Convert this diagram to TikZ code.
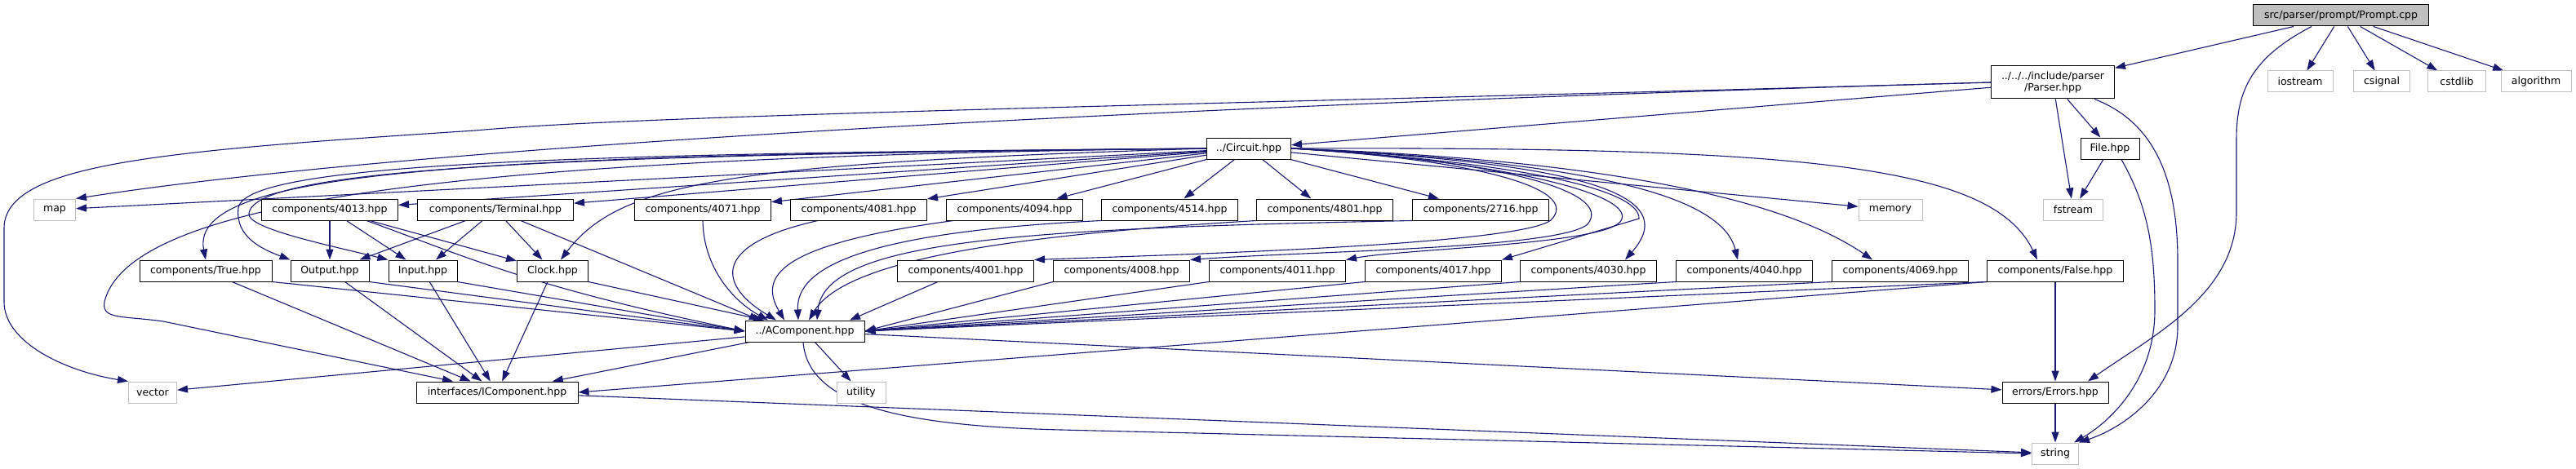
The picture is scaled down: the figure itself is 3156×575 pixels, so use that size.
\documentclass[tikz,border=0pt]{standalone}
\usepackage{fontspec}
\setmainfont{DejaVu Sans}
\usepackage{xcolor}
\usepackage{tikz}
\usetikzlibrary{arrows.meta}
\definecolor{edgeblue}{RGB}{25,25,112}
\definecolor{sysgray}{RGB}{191,191,191}
\pgfdeclarelayer{edges}
\pgfsetlayers{edges,main}

\begin{document}
\begin{tikzpicture}[x=1pt,y=-1pt,
  hdr/.style={draw=black,line width=1pt,fill=white,minimum height=26pt,inner xsep=4pt,inner ysep=2pt,font=\fontsize{12.5}{14.5}\selectfont},
  sys/.style={hdr,draw=sysgray},
  dep/.style={draw=edgeblue,line width=1.1pt,-{Triangle[length=13pt,width=9pt]}}]
\useasboundingbox (0,0) rectangle (3156,575);
% Top: the source file and what it pulls in
\node[hdr,fill=sysgray,minimum width=215pt] (prompt) at (2868,19) {src/parser/prompt/Prompt.cpp};
\node[hdr,minimum width=151pt,minimum height=40pt,align=center] (parser) at (2515,101) {../../../include/parser\\/Parser.hpp};
\foreach \n/\x/\w in {iostream/2818/80, csignal/2918/69, cstdlib/3010/71, algorithm/3107/86}
    \node[sys,minimum width=\w pt] (\n) at (\x,100) {\n};
\node[hdr,minimum width=103pt] (circuit) at (1530,182) {../Circuit.hpp};
\node[hdr,minimum width=72pt] (fileh) at (2585,182) {File.hpp};
% Row 3
\node[sys,minimum width=51pt] (map) at (67,257) {map};
\node[hdr,minimum width=167pt] (c4013) at (404,257) {components/4013.hpp};
\node[hdr,minimum width=191pt] (terminal) at (607,257) {components/Terminal.hpp};
\foreach \n/\x in {4071/861, 4081/1052, 4094/1243, 4514/1433, 4801/1623, 2716/1814}
    \node[hdr,minimum width=167pt] (c\n) at (\x,257) {components/\n.hpp};
\node[sys,minimum width=78pt] (memory) at (2316,257) {memory};
\node[sys,minimum width=73pt] (fstream) at (2540,257) {fstream};
% Row 4
\node[hdr,minimum width=162pt] (ctrue) at (252,332) {components/True.hpp};
\node[hdr,minimum width=96pt] (output) at (404,332) {Output.hpp};
\node[hdr,minimum width=84pt] (input) at (518,332) {Input.hpp};
\node[hdr,minimum width=87pt] (clock) at (677,332) {Clock.hpp};
\foreach \n/\x in {4001/1183, 4008/1374, 4011/1565, 4017/1756, 4030/1946, 4040/2137, 4069/2328}
    \node[hdr,minimum width=167pt] (c\n) at (\x,332) {components/\n.hpp};
\node[hdr,minimum width=167pt] (cfalse) at (2518,332) {components/False.hpp};
% Bottom rows
\node[hdr,minimum width=146pt] (acomp) at (986,406) {../AComponent.hpp};
\node[sys,minimum width=59pt] (vector) at (187,481) {vector};
\node[hdr,minimum width=198pt] (icomp) at (609,481) {interfaces/IComponent.hpp};
\node[sys,minimum width=60pt] (utility) at (1055,481) {utility};
\node[hdr,minimum width=130pt] (errors) at (2518,481) {errors/Errors.hpp};
\node[sys,minimum width=57pt] (string) at (2518,556) {string};

\begin{pgfonlayer}{edges}
% Prompt.cpp
\foreach \t in {parser,iostream,csignal,cstdlib,algorithm}
    \draw[dep] (prompt) -- (\t);
\draw[dep] ([xshift=-36pt]prompt.south) .. controls (2760,70) and (2740,110) .. (2740,170) -- (2740,260) .. controls (2740,360) and (2640,410) .. ([xshift=40pt]errors.north);
% Parser.hpp
\draw[dep] (parser) -- (circuit);
\draw[dep] (parser.west) .. controls (1400,130) and (500,180) .. (map.north east);
\draw[dep] (parser.west) .. controls (1500,128) and (800,140) .. (582,160) .. controls (200,185) and (5,200) .. (5,280) -- (5,370) .. controls (5,420) and (80,455) .. (vector.north west);
\draw[dep] (parser) -- (fileh);
\draw[dep] (parser) -- (fstream);
\draw[dep] ([xshift=51pt]parser.south) .. controls (2640,150) and (2668,220) .. (2668,320) -- (2668,400) .. controls (2668,480) and (2600,525) .. (string.north east);
\draw[dep] (fileh) -- (fstream);
\draw[dep] ([xshift=14pt]fileh.south) .. controls (2630,250) and (2640,300) .. (2640,380) .. controls (2640,470) and (2580,520) .. ([xshift=-6pt]string.north east);
% Circuit.hpp, straight ones
\foreach \t in {map,c4013,terminal,c4071,c4081,c4094,c4514,c4801,c2716,memory}
    \draw[dep] (circuit) -- (\t);
% Circuit.hpp, round to the left
\draw[dep] (circuit.west) .. controls (600,190) and (230,205) .. (ctrue.north);
\draw[dep] (circuit.west) .. controls (700,188) and (300,200) .. (292,255) .. controls (288,290) and (320,305) .. (output.north west);
\draw[dep] (circuit.west) .. controls (700,190) and (310,205) .. (305,262) .. controls (303,280) and (400,300) .. (input.north west);
\draw[dep] (circuit.west) .. controls (900,200) and (760,222) .. ([xshift=10pt]clock.north);
\draw[dep] (circuit.west) .. controls (600,192) and (160,240) .. (128,370) .. controls (124,392) and (150,387) .. (200,394) -- ([xshift=-54pt]icomp.north);
% Circuit.hpp, round to the right
\draw[dep] (circuit.east) .. controls (1800,195) and (1940,230) .. (1900,270) .. controls (1860,300) and (1450,312) .. (c4001.north east);
\draw[dep] (circuit.east) .. controls (1820,195) and (1980,232) .. (1945,275) .. controls (1910,305) and (1600,308) .. (c4008.north east);
\draw[dep] (circuit.east) .. controls (1850,198) and (2010,240) .. (1985,272) .. controls (1960,300) and (1720,305) .. (c4011.north east);
\draw[dep] (circuit.east) .. controls (1880,200) and (2010,235) .. (2008,268) -- (c4017.north east);
\draw[dep] (circuit.east) .. controls (1950,200) and (2060,240) .. ([xshift=45pt]c4030.north);
\draw[dep] (circuit.east) .. controls (1950,198) and (2110,240) .. ([xshift=-8pt]c4040.north);
\draw[dep] (circuit.east) .. controls (1950,195) and (2180,240) .. ([xshift=-34pt]c4069.north);
\draw[dep] (circuit.east) .. controls (2200,180) and (2440,200) .. ([xshift=-22pt]cfalse.north);
% into AComponent.hpp from above
\draw[dep] (c4071.south) .. controls (862,330) and (900,370) .. ([xshift=-45pt]acomp.north);
\draw[dep] ([xshift=-50pt]c4081.south) .. controls (870,300) and (880,350) .. ([xshift=-35pt]acomp.north);
\draw[dep] ([xshift=-75pt]c4094.south) .. controls (950,300) and (930,340) .. ([xshift=-25pt]acomp.north);
\draw[dep] (c4514.south west) .. controls (1050,285) and (975,330) .. ([xshift=-8pt]acomp.north);
\draw[dep] (c4801.south west) .. controls (1300,285) and (1040,310) .. ([xshift=5pt]acomp.north);
\draw[dep] (c2716.south west) .. controls (1250,280) and (1010,295) .. ([xshift=15pt]acomp.north);
\draw[dep] ([xshift=-34pt]c4001.south) -- ([xshift=55pt]acomp.north);
\foreach \s in {c4008,c4011,c4017,c4030,c4040,c4069,cfalse}
    \draw[dep] (\s.south west) -- (acomp.east);
% left group
\foreach \t in {output,input,clock} {
    \draw[dep] (terminal) -- (\t);
    \draw[dep] (c4013) -- (\t);
}
\foreach \s in {ctrue,output,input}
    \draw[dep] (\s.south east) -- (acomp.west);
\draw[dep] (clock.south east) -- ([xshift=-50pt]acomp.north);
\draw[dep] ([xshift=45pt]c4013.south) .. controls (560,310) and (640,350) .. (acomp.west);
\draw[dep] ([xshift=31pt]terminal.south) -- ([xshift=-55pt]acomp.north);
\foreach \s in {ctrue,output,input,clock,acomp}
    \draw[dep] (\s) -- (icomp);
% False.hpp
\draw[dep] (cfalse.south west) -- (icomp.east);
\draw[dep] (cfalse) -- (errors);
% AComponent.hpp and below
\foreach \t in {vector,utility,errors}
    \draw[dep] (acomp) -- (\t);
\draw[dep] ([xshift=-2pt]acomp.south) .. controls (990,495) and (1100,522) .. (1300,527) -- (string.west);
\draw[dep] (icomp) -- (string);
\draw[dep] (errors) -- (string);
\end{pgfonlayer}
\end{tikzpicture}
\end{document}
